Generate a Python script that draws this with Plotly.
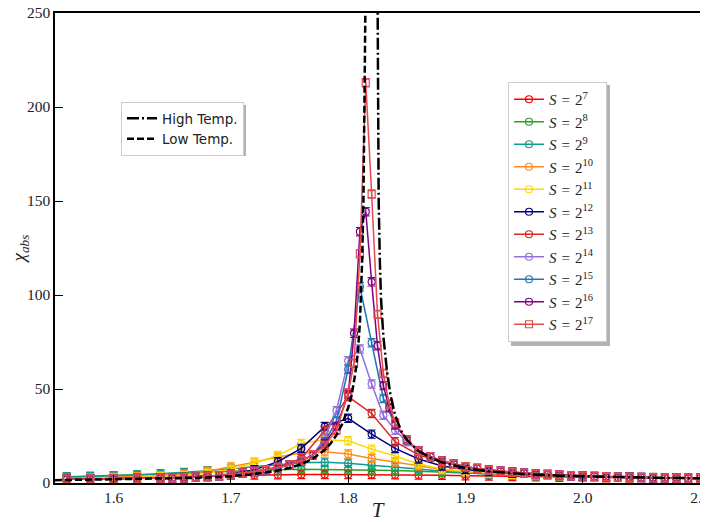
import plotly.graph_objects as go

# temperatures sampled every 0.02 (smaller lattices)
T_small = [1.56, 1.58, 1.60, 1.62, 1.64, 1.66, 1.68, 1.70, 1.72, 1.74, 1.76, 1.78, 1.80, 1.82,
           1.84, 1.86, 1.88, 1.90, 1.92, 1.94, 1.96, 1.98, 2.00, 2.02, 2.04, 2.06, 2.08, 2.10]

chi_7 = [2.8, 3.0, 3.2, 3.4, 3.6, 3.8, 4.0, 4.2, 4.3, 4.4, 4.5, 4.5, 4.5, 4.5,
         4.4, 4.3, 4.1, 3.9, 3.7, 3.5, 3.3, 3.1, 3.0, 2.8, 2.7, 2.6, 2.5, 2.4]
chi_8 = [3.3, 3.6, 3.9, 4.3, 4.8, 5.3, 5.8, 6.3, 6.7, 7.0, 7.3, 7.2, 7.1, 6.9,
         6.6, 6.2, 5.7, 5.2, 4.8, 4.4, 4.1, 3.8, 3.5, 3.3, 3.1, 2.9, 2.8, 2.6]
chi_9 = [3.0, 3.3, 3.7, 4.2, 4.9, 5.6, 6.5, 7.6, 8.8, 10.0, 10.8, 11.0, 10.5, 9.4,
         8.5, 7.4, 6.3, 5.4, 4.8, 4.3, 3.9, 3.6, 3.3, 3.1, 2.9, 2.8, 2.6, 2.5]
chi_10 = [2.4, 2.6, 2.9, 3.3, 3.8, 4.6, 6.3, 8.5, 11.0, 13.8, 16.0, 16.6, 15.4, 13.0,
          11.2, 9.2, 7.0, 5.8, 5.0, 4.4, 4.0, 3.7, 3.4, 3.1, 2.9, 2.8, 2.6, 2.5]
chi_11 = [2.2, 2.4, 2.6, 2.9, 3.3, 4.0, 5.2, 7.3, 10.6, 14.6, 21.0, 23.0, 22.5, 18.0,
          14.4, 10.1, 7.5, 6.2, 5.3, 4.7, 4.2, 3.8, 3.5, 3.2, 3.0, 2.8, 2.7, 2.5]
chi_12 = [2.0, 2.1, 2.3, 2.5, 2.7, 3.0, 3.6, 4.8, 7.0, 11.3, 18.4, 30.0, 34.4, 26.0,
          18.4, 12.8, 9.0, 7.2, 6.0, 5.2, 4.5, 4.0, 3.6, 3.3, 3.0, 2.8, 2.6, 2.5]
chi_13 = [2.0, 2.1, 2.2, 2.35, 2.5, 2.8, 3.4, 4.5, 6.1, 8.4, 13.0, 28.0, 46.0, 37.0,
          22.0, 15.0, 11.0, 8.6, 6.9, 5.7, 4.8, 4.2, 3.7, 3.3, 3.0, 2.8, 2.6, 2.4]

# larger lattices: common low / high temperature parts
T_big_low = [1.56, 1.58, 1.60, 1.62, 1.64, 1.65, 1.66, 1.67, 1.68, 1.69, 1.70, 1.71,
             1.72, 1.73, 1.74, 1.75, 1.76, 1.77]
chi_big_low = [2.0, 2.1, 2.2, 2.35, 2.5, 2.6, 2.8, 3.0, 3.4, 3.9, 4.5, 5.3,
               6.1, 7.0, 8.2, 9.6, 11.8, 15.0]
T_big_high = [1.86, 1.87, 1.88, 1.89, 1.90, 1.91, 1.92, 1.93, 1.94, 1.95, 1.96, 1.97, 1.98,
              1.99, 2.00, 2.01, 2.02, 2.03, 2.04, 2.05, 2.06, 2.07, 2.08, 2.09, 2.10]
chi_big_high = [17.0, 14.0, 11.7, 10.0, 8.7, 7.7, 6.9, 6.2, 5.7, 5.2, 4.8, 4.5, 4.2,
                3.9, 3.7, 3.5, 3.3, 3.1, 3.0, 2.9, 2.8, 2.7, 2.6, 2.5, 2.4]

# near the transition
T_near_a = [1.78, 1.79, 1.80, 1.81, 1.82, 1.83, 1.84, 1.85]
chi_near_14 = [24.0, 38.5, 65.0, 71.3, 52.7, 36.0, 28.0, 22.0]
chi_near_15 = [22.0, 33.0, 60.5, 104.4, 74.6, 45.0, 31.0, 23.0]
T_near_b = [1.78, 1.79, 1.80, 1.805, 1.81, 1.815, 1.82, 1.825, 1.83, 1.835, 1.84, 1.85]
chi_near_16 = [21.0, 30.0, 47.0, 79.6, 133.7, 144.3, 107.0, 73.0, 51.8, 40.0, 31.0, 23.0]
chi_near_17 = [20.0, 28.0, 48.0, 63.7, 122.0, 212.9, 153.7, 89.7, 58.3, 42.0, 32.0, 23.0]

ERR = 2.2

# asymptotic curves
T_lowtemp = [1.55, 1.58, 1.61, 1.64, 1.67, 1.70, 1.72, 1.74, 1.75, 1.76, 1.77, 1.78, 1.785,
             1.79, 1.795, 1.80, 1.803, 1.806, 1.808, 1.810, 1.811, 1.812, 1.813, 1.814,
             1.8145, 1.815, 1.8153]
chi_lowtemp = [1.5, 1.7, 1.9, 2.2, 2.7, 3.6, 4.8, 6.6, 8.0, 10.0, 13.0, 17.5, 21.0,
               25.5, 31.5, 40.0, 47.0, 58.0, 68.0, 85.0, 100.0, 120.0, 150.0, 195.0,
               225.0, 260.0, 290.0]
T_hightemp = [1.8248, 1.825, 1.8255, 1.826, 1.827, 1.828, 1.83, 1.833, 1.836, 1.84, 1.845,
              1.85, 1.86, 1.87, 1.88, 1.90, 1.92, 1.95, 1.98, 2.02, 2.06, 2.10]
chi_hightemp = [290.0, 260.0, 190.0, 150.0, 118.0, 98.0, 78.0, 60.0, 47.0, 36.0, 28.0,
                23.0, 17.0, 13.5, 11.0, 7.9, 6.2, 4.8, 3.9, 3.2, 2.8, 2.5]

series = [
    (7, T_small, chi_7, '#ff0000', 'circle-open'),
    (8, T_small, chi_8, '#2ca02c', 'circle-open'),
    (9, T_small, chi_9, '#119c92', 'circle-open'),
    (10, T_small, chi_10, '#ff8c1a', 'circle-open'),
    (11, T_small, chi_11, '#ffd700', 'circle-open'),
    (12, T_small, chi_12, '#000080', 'circle-open'),
    (13, T_small, chi_13, '#d62728', 'circle-open'),
    (14, T_big_low + T_near_a + T_big_high, chi_big_low + chi_near_14 + chi_big_high, '#9370db', 'circle-open'),
    (15, T_big_low + T_near_a + T_big_high, chi_big_low + chi_near_15 + chi_big_high, '#1f77b4', 'circle-open'),
    (16, T_big_low + T_near_b + T_big_high, chi_big_low + chi_near_16 + chi_big_high, '#800080', 'circle-open'),
    (17, T_big_low + T_near_b + T_big_high, chi_big_low + chi_near_17 + chi_big_high, '#e34a4f', 'square-open'),
]

fig = go.Figure()
for p, tx, cy, col, sym in series:
    fig.add_trace(go.Scatter(
        x=tx, y=cy, mode='lines+markers',
        name=f'<i>S</i>\u2004=\u20042<sup>{p}</sup>\u2007',
        line=dict(color=col, width=1.5),
        marker=dict(symbol=sym, size=7, color=col, line=dict(width=1.2, color=col)),
        error_y=dict(type='constant', value=ERR, color=col, thickness=1.2, width=4),
        legend='legend',
    ))

fig.add_trace(go.Scatter(x=T_hightemp, y=chi_hightemp, mode='lines', name='High Temp.',
                         line=dict(color='black', width=2.5, dash='12px,3px,2px,3px'),
                         legend='legend2'))
fig.add_trace(go.Scatter(x=T_lowtemp, y=chi_lowtemp, mode='lines', name='Low Temp.',
                         line=dict(color='black', width=2.5, dash='7px,3px'),
                         legend='legend2'))

serif = 'Liberation Serif'
axis_common = dict(showline=True, mirror=True, linecolor='black', linewidth=1.5,
                   ticks='inside', ticklen=8, tickwidth=1.2, tickcolor='black',
                   showgrid=False, zeroline=False, automargin=False,
                   ticklabeloverflow='allow',
                   tickfont=dict(family=serif, size=15.5, color='#222'))


# the page body adds an 8px offset, so positions are given in page pixels
def px_x(p):
    return (p - 55) / 645


def px_y(p):
    return (483 - p) / 470


# legend shadows (matplotlib style)
shadows = []
for (x0, y0, x1, y1) in [(508, 82, 607, 343), (121, 102, 243, 153)]:
    shadows.append(dict(type='rect', xref='paper', yref='paper', layer='above',
                        x0=px_x(x0 + 3), x1=px_x(x1 + 3), y0=px_y(y1 + 3), y1=px_y(y0 + 3),
                        fillcolor='rgba(0,0,0,0.3)', line=dict(width=0)))

fig.update_layout(
    width=700, height=514,
    margin=dict(l=47, r=8, t=5, b=39, pad=0),
    plot_bgcolor='white', paper_bgcolor='white',
    shapes=shadows,
    xaxis=dict(range=[1.55, 2.1], tickvals=[1.6, 1.7, 1.8, 1.9, 2.0, 2.1],
               ticktext=['1.6', '1.7', '1.8', '1.9', '2.0', '2.1'],
               title=dict(text='<i>T</i>', font=dict(family=serif, size=21, color='#222')),
               **axis_common),
    yaxis=dict(range=[0, 250], tickvals=[0, 50, 100, 150, 200, 250],
               title=dict(text='<i>χ</i><sub><i>abs</i></sub>', font=dict(family=serif, size=19, color='#222'),
                          standoff=4),
               **axis_common),
    legend=dict(x=px_x(508), y=px_y(82), xanchor='left', yanchor='top',
                bgcolor='white', bordercolor='#cccccc', borderwidth=1,
                font=dict(family=serif, size=15, color='#222'), itemwidth=30,
                tracegroupgap=0),
    legend2=dict(x=px_x(121), y=px_y(102), xanchor='left', yanchor='top',
                 bgcolor='white', bordercolor='#cccccc', borderwidth=1,
                 font=dict(family='DejaVu Sans', size=13.5, color='#222'), itemwidth=30),
)

fig.write_html("out.html")
